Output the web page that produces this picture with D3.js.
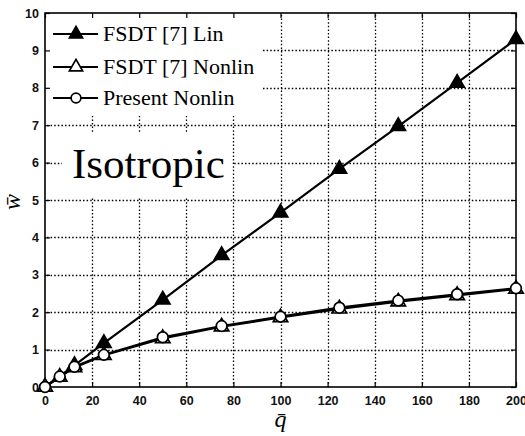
<!DOCTYPE html>
<html><head><meta charset="utf-8">
<script src="https://cdn.jsdelivr.net/npm/d3@7"></script>
<style>body{margin:0;background:#fff}svg{display:block}</style>
</head><body>
<svg id="c" width="525" height="436"></svg>
<script>
const qLin = [0, 12.5, 25, 50, 75, 100, 125, 150, 175, 200];
const wLin = [0, 0.58, 1.17, 2.33, 3.52, 4.66, 5.83, 6.97, 8.13, 9.3];
const qNon = [0, 6.25, 12.5, 25, 50, 75, 100, 125, 150, 175, 200];
const wFsdtNon = [0, 0.27, 0.52, 0.85, 1.3, 1.61, 1.86, 2.09, 2.28, 2.45, 2.62];
const wPresent = [0, 0.28, 0.54, 0.86, 1.33, 1.63, 1.88, 2.12, 2.31, 2.48, 2.64];
const xTicks = [0, 20, 40, 60, 80, 100, 120, 140, 160, 180, 200];
const yTicks = [0, 1, 2, 3, 4, 5, 6, 7, 8, 9, 10];
const legendLabels = ["FSDT [7] Lin", "FSDT [7] Nonlin", "Present Nonlin"];

const svg = d3.select("#c");
const L = 45, R = 516, T = 13, B = 387;
const x = d3.scaleLinear().domain([0, 200]).range([L, R]);
const y = d3.scaleLinear().domain([0, 10]).range([B, T]);

// dotted grid built from small segments
function dottedV(px) {
  let s = "";
  for (let yy = T + 2; yy < B - 1; yy += 3.6) s += `M${px},${yy.toFixed(1)}v1.5`;
  return s;
}
function dottedH(py) {
  let s = "";
  for (let xx = L + 2; xx < R - 1; xx += 3.6) s += `M${xx.toFixed(1)},${py}h1.5`;
  return s;
}
const grid = svg.append("g").attr("class", "grid");
grid.selectAll("path.gx").data(xTicks.slice(1, -1)).join("path").attr("class", "gx")
  .attr("d", d => dottedV(Math.round(x(d)) + 0.5))
  .attr("fill", "none").attr("stroke", "#000").attr("stroke-width", 1.3);
grid.selectAll("path.gy").data(yTicks.slice(1, -1)).join("path").attr("class", "gy")
  .attr("d", d => dottedH(Math.round(y(d)) + 0.5))
  .attr("fill", "none").attr("stroke", "#000").attr("stroke-width", 1.3);

// white backgrounds of legend and annotation (cover the grid)
svg.append("rect").attr("x", L).attr("y", T).attr("width", 217).attr("height", 103).attr("fill", "#fff");
svg.append("rect").attr("x", 62).attr("y", 133).attr("width", 170).attr("height", 64).attr("fill", "#fff");

// axes
const fontTick = "'Liberation Sans', Arial, sans-serif";
const ax = svg.append("g").attr("transform", `translate(0,${B})`)
  .call(d3.axisBottom(x).tickValues(xTicks).tickSize(-5).tickPadding(9).tickFormat(d3.format("d")));
const ax2 = svg.append("g").attr("transform", `translate(0,${T})`)
  .call(d3.axisTop(x).tickValues(xTicks).tickSize(-5).tickFormat(""));
const ay = svg.append("g").attr("transform", `translate(${L},0)`)
  .call(d3.axisLeft(y).tickValues(yTicks).tickSize(-5).tickPadding(6).tickFormat(d3.format("d")));
const ay2 = svg.append("g").attr("transform", `translate(${R},0)`)
  .call(d3.axisRight(y).tickValues(yTicks).tickSize(-5).tickFormat(""));
[ax, ax2, ay, ay2].forEach(a => {
  a.select(".domain").remove();
  a.selectAll("line").attr("stroke", "#000").attr("stroke-width", 1.2);
  a.selectAll("text").attr("font-family", fontTick).attr("font-size", 12.5)
    .attr("font-weight", "bold").attr("fill", "#111");
});
ax.selectAll("text").attr("dy", "0.71em");
svg.append("rect").attr("x", L).attr("y", T).attr("width", R - L).attr("height", B - T)
  .attr("fill", "none").attr("stroke", "#000").attr("stroke-width", 1.6);

// series
const line = d3.line().x(d => x(d[0])).y(d => y(d[1]));
const dLin = qLin.map((q, i) => [q, wLin[i]]);
const dFN = qNon.map((q, i) => [q, wFsdtNon[i]]);
const dPr = qNon.map((q, i) => [q, wPresent[i]]);
const triUp = d3.symbol().type(d3.symbolTriangle).size(90);
const circ = d3.symbol().type(d3.symbolCircle).size(90);
const triLeg = d3.symbol().type(d3.symbolTriangle).size(75);
const circLeg = d3.symbol().type(d3.symbolCircle).size(75);

function series(data, sym, fill) {
  svg.append("path").attr("d", line(data)).attr("fill", "none")
    .attr("stroke", "#000").attr("stroke-width", 2.2);
  svg.selectAll(null).data(data).enter().append("path")
    .attr("d", sym).attr("transform", d => `translate(${x(d[0])},${y(d[1])})`)
    .attr("fill", fill).attr("stroke", "#000").attr("stroke-width", 1.7);
}
series(dLin, triUp, "#000");
series(dFN, triUp, "#fff");
series(dPr, circ, "#fff");

// legend
const lg = svg.append("g");
const legSyms = [[triLeg, "#000"], [triLeg, "#fff"], [circLeg, "#fff"]];
const legY = [34, 67, 98];
legendLabels.forEach((t, i) => {
  lg.append("line").attr("x1", 53).attr("x2", 98).attr("y1", legY[i]).attr("y2", legY[i])
    .attr("stroke", "#000").attr("stroke-width", 2.2);
  lg.append("path").attr("d", legSyms[i][0]).attr("transform", `translate(76,${legY[i]})`)
    .attr("fill", legSyms[i][1]).attr("stroke", "#000").attr("stroke-width", 1.7);
  lg.append("text").attr("x", 103).attr("y", legY[i] + 7).text(t)
    .attr("font-family", "'Liberation Serif', 'Times New Roman', serif").attr("font-size", 22).attr("fill", "#000");
});

// annotation
svg.append("text").attr("x", 72).attr("y", 178).text("Isotropic")
  .attr("font-family", "'Liberation Serif', 'Times New Roman', serif").attr("font-size", 43).attr("fill", "#000");

// axis labels
svg.append("text").attr("x", x(100)).attr("y", 427).attr("text-anchor", "middle")
  .attr("font-family", "'Liberation Serif', serif").attr("font-style", "italic").attr("font-size", 24)
  .text("q\u0304");
svg.append("text").attr("transform", "translate(20,202) rotate(-90)").attr("text-anchor", "middle")
  .attr("font-family", "'Liberation Serif', serif").attr("font-style", "italic").attr("font-size", 24)
  .text("w\u0304");
</script>
</body></html>
